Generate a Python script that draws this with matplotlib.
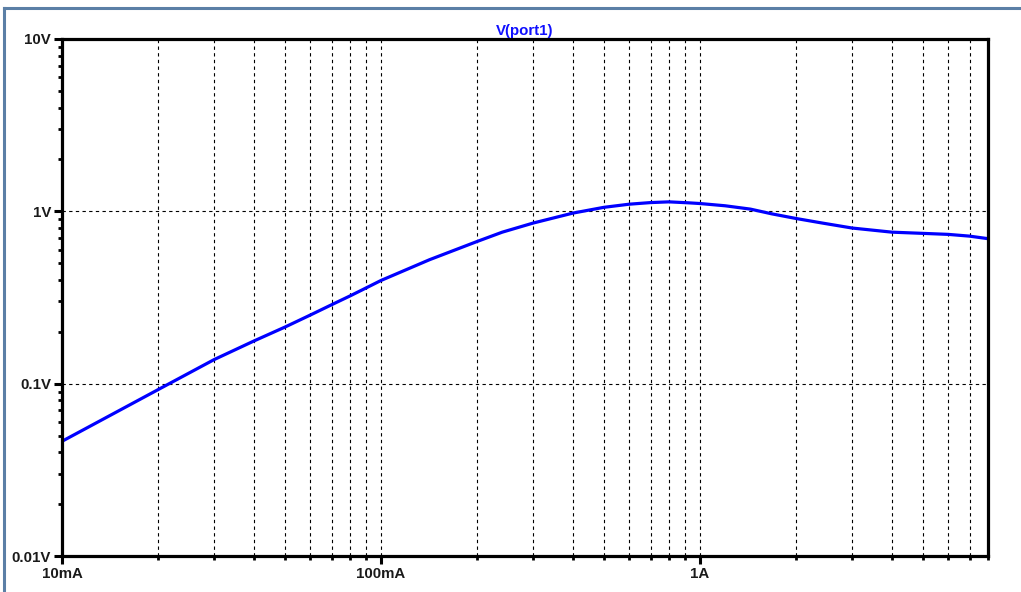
import matplotlib.pyplot as plt
from matplotlib.lines import Line2D
from matplotlib.ticker import FixedLocator, FixedFormatter, LogLocator, NullFormatter

# current sweep (A) and V(port1)
current = [0.01, 0.02, 0.03, 0.04, 0.05, 0.06, 0.07, 0.08, 0.09, 0.1,
           0.142, 0.2, 0.24, 0.3, 0.4, 0.5, 0.6, 0.7, 0.8, 0.924, 1.0,
           1.2, 1.44, 1.68, 2.0, 2.42, 3.0, 4.0, 5.0, 6.0, 7.0, 8.0]
voltage = [0.0463, 0.0923, 0.138, 0.177, 0.213, 0.250, 0.287, 0.323, 0.360, 0.397,
           0.524, 0.668, 0.757, 0.855, 0.977, 1.055, 1.10, 1.124, 1.135, 1.12, 1.11,
           1.077, 1.03, 0.967, 0.909, 0.855, 0.80, 0.757, 0.745, 0.735, 0.718, 0.694]

x_major = [0.01, 0.1, 1.0]
x_labels = ["10mA", "100mA", "1A"]
y_major = [0.01, 0.1, 1.0, 10.0]
y_labels = ["0.01V", "0.1V", "1V", "10V"]

plt.rcParams['font.family'] = ['Liberation Sans', 'DejaVu Sans']

fig = plt.figure(figsize=(10.21, 5.92), dpi=100)
ax = fig.add_axes([62/1021, 36/592, 926/1021, 517/592])

ax.plot(current, voltage, color='#0000ff', lw=2.3, solid_capstyle='butt')

ax.set_xscale('log')
ax.set_yscale('log')
ax.set_xlim(0.01, 8)
ax.set_ylim(0.01, 10)

ax.xaxis.set_major_locator(FixedLocator(x_major))
ax.xaxis.set_major_formatter(FixedFormatter(x_labels))
ax.xaxis.set_minor_locator(LogLocator(base=10, subs=range(2, 10), numticks=20))
ax.xaxis.set_minor_formatter(NullFormatter())
ax.yaxis.set_major_locator(FixedLocator(y_major))
ax.yaxis.set_major_formatter(FixedFormatter(y_labels))
ax.yaxis.set_minor_locator(LogLocator(base=10, subs=range(2, 10), numticks=20))
ax.yaxis.set_minor_formatter(NullFormatter())

ax.tick_params(which='major', direction='out', length=6, width=2.2, color='black',
               labelsize=10.8, pad=2)
ax.tick_params(which='minor', direction='out', length=3, width=2.0, color='black')
for lab in ax.get_xticklabels() + ax.get_yticklabels():
    lab.set_fontweight('bold')
    lab.set_color('#1a1a1a')

for s in ax.spines.values():
    s.set_linewidth(2.3)
    s.set_color('black')

# grid: verticals at every decade step, horizontals at decades only
ax.grid(True, which='both', axis='x', color='black', linestyle=(0, (3, 3)), lw=0.8)
ax.grid(True, which='major', axis='y', color='black', linestyle=(0, (3, 3)), lw=0.8)
ax.set_axisbelow(True)

ax.set_title("V(port1)", color='#1010ff', fontweight='bold', fontsize=10.8, pad=3)

# window frame
fig.add_artist(Line2D([4/1021, 1.0], [1 - 8/592, 1 - 8/592], color='#5b7fa6', lw=2.2,
                      transform=fig.transFigure))
fig.add_artist(Line2D([4/1021, 4/1021], [0.0, 1 - 8/592], color='#5b7fa6', lw=2.2,
                      transform=fig.transFigure))

fig.savefig("out.png", dpi=100)
